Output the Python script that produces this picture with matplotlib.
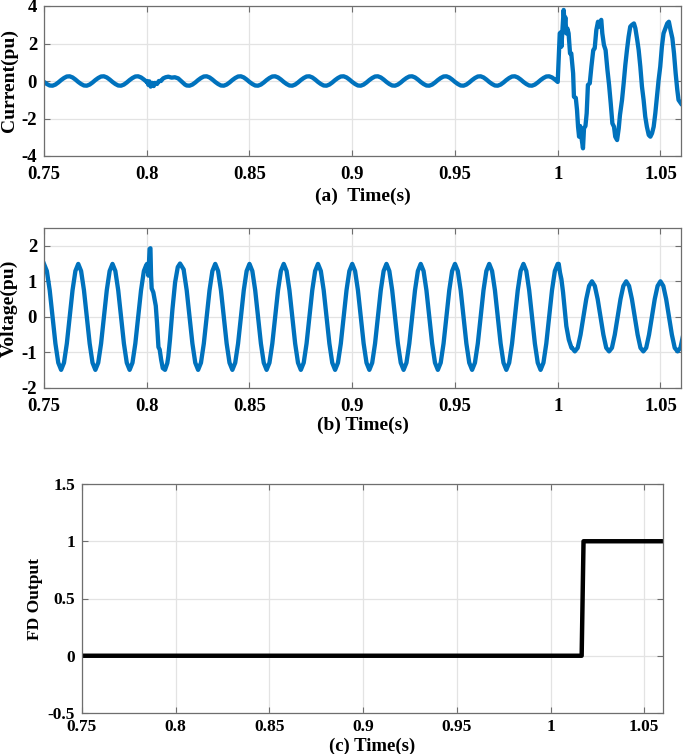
import numpy as np
import matplotlib
matplotlib.use("Agg")
import matplotlib.pyplot as plt
from matplotlib.ticker import FuncFormatter, FixedLocator

# ---------------- data ----------------
t_start = 0.75          # first sample of the read-off grid (s)
sample_rate = 720       # read-off grid: samples per second

# (a) current, pre-fault samples on the grid (0.75 s .. 1.0 s)
current_pu = [
    -0.05, -0.16, -0.24, -0.25, -0.19, -0.08, 0.05, 0.16, 0.24, 0.25, 0.19, 0.08,
    -0.05, -0.16, -0.24, -0.25, -0.19, -0.08, 0.05, 0.16, 0.24, 0.25, 0.19, 0.08,
    -0.05, -0.16, -0.24, -0.25, -0.19, -0.08, 0.05, 0.16, 0.24, 0.25, 0.19, 0.08,
    -0.05, -0.20, -0.15, -0.20, -0.10, 0.00, 0.12, 0.20, 0.23, 0.19, 0.20, 0.12,
    -0.05, -0.16, -0.24, -0.25, -0.19, -0.08, 0.05, 0.16, 0.24, 0.25, 0.19, 0.08,
    -0.05, -0.16, -0.24, -0.25, -0.19, -0.08, 0.05, 0.16, 0.24, 0.25, 0.19, 0.08,
    -0.05, -0.16, -0.24, -0.25, -0.19, -0.08, 0.05, 0.16, 0.24, 0.25, 0.19, 0.08,
    -0.05, -0.16, -0.24, -0.25, -0.19, -0.08, 0.05, 0.16, 0.24, 0.25, 0.19, 0.08,
    -0.05, -0.16, -0.24, -0.25, -0.19, -0.08, 0.05, 0.16, 0.24, 0.25, 0.19, 0.08,
    -0.05, -0.16, -0.24, -0.25, -0.19, -0.08, 0.05, 0.16, 0.24, 0.25, 0.19, 0.08,
    -0.05, -0.16, -0.24, -0.25, -0.19, -0.08, 0.05, 0.16, 0.24, 0.25, 0.19, 0.08,
    -0.05, -0.16, -0.24, -0.25, -0.19, -0.08, 0.05, 0.16, 0.24, 0.25, 0.19, 0.08,
    -0.05, -0.16, -0.24, -0.25, -0.19, -0.08, 0.05, 0.16, 0.24, 0.25, 0.19, 0.08,
    -0.05, -0.16, -0.24, -0.25, -0.19, -0.08, 0.05, 0.16, 0.24, 0.25, 0.19, 0.08,
    -0.05, -0.16, -0.24, -0.25, -0.19, -0.08, 0.05, 0.16, 0.24, 0.25, 0.19, 0.08,
    -0.05,
]
# (a) current, switching transient near 0.8 s
current_evt_t = [0.8001, 0.8008, 0.8013, 0.8019, 0.8027, 0.8034, 0.8040, 0.8050, 0.8059,
                 0.8069, 0.8080, 0.8092, 0.8105, 0.8121, 0.8137, 0.8153, 0.8170, 0.8186]
current_evt_pu = [0.00, -0.21, -0.02, -0.30, -0.10, -0.27, -0.10, -0.16, 0.00,
                  0.00, 0.14, 0.20, 0.23, 0.18, 0.20, 0.14, -0.03, -0.19]
# (a) current, fault after 1.0 s
current_fault_t = [
    1.0010, 1.0015, 1.0018, 1.0023, 1.0029, 1.0034, 1.0037, 1.0042, 1.0047, 1.0053,
    1.0060, 1.0066, 1.0075, 1.0079, 1.0088, 1.0094, 1.0099, 1.0104, 1.0109, 1.0115,
    1.0123, 1.0128, 1.0135, 1.0141, 1.0147, 1.0156, 1.0164, 1.0173, 1.0180, 1.0188,
    1.0196, 1.0201, 1.0207, 1.0212, 1.0217, 1.0225, 1.0233, 1.0242, 1.0250, 1.0258,
    1.0266, 1.0274, 1.0280, 1.0289, 1.0297, 1.0303, 1.0313, 1.0321, 1.0329, 1.0337,
    1.0345, 1.0353, 1.0361, 1.0371, 1.0378, 1.0387, 1.0394, 1.0402, 1.0410, 1.0418,
    1.0426, 1.0434, 1.0443, 1.0451, 1.0459, 1.0467, 1.0475, 1.0483, 1.0491, 1.0499,
    1.0507, 1.0515, 1.0524, 1.0533, 1.0541, 1.0549, 1.0558, 1.0566, 1.0574, 1.0582,
    1.0588, 1.0600,
]
current_fault_pu = [
    2.54, 2.60, 1.83, 2.70, 3.79, 2.99, 3.40, 2.54, 2.80, 2.54,
    1.47, 1.47, 0.41, -0.84, -0.90, -1.55, -2.44, -2.97, -2.40, -2.97,
    -3.59, -2.52, -2.40, -1.72, -0.21, -0.12, 0.77, 1.65, 1.74, 2.72,
    3.16, 2.90, 3.16, 3.26, 2.54, 1.92, 1.65, 0.59, -0.21, -1.19,
    -2.26, -2.44, -2.97, -3.15, -2.52, -1.81, -1.01, -0.12, 0.85, 1.65,
    2.36, 2.90, 2.99, 3.07, 2.81, 2.19, 1.65, 0.77, -0.30, -1.01,
    -1.90, -2.44, -2.88, -2.97, -2.79, -2.44, -1.72, -0.84, 0.05, 0.77,
    1.83, 2.54, 2.81, 3.07, 3.16, 2.72, 2.28, 1.47, 0.41, -0.48,
    -1.01, -1.20,
]

# (b) voltage on the grid (0.75 s .. 1.061 s)
voltage_pu = [
    1.49, 1.29, 0.75, 0.00, -0.75, -1.29, -1.49, -1.29, -0.75, 0.00, 0.75, 1.29,
    1.49, 1.29, 0.75, 0.00, -0.75, -1.29, -1.49, -1.29, -0.75, 0.00, 0.75, 1.29,
    1.49, 1.29, 0.75, 0.00, -0.75, -1.29, -1.49, -1.29, -0.75, 0.00, 0.75, 1.29,
    1.49, 1.60, 0.75, 0.35, -0.80, -1.20, -1.45, -1.35, -0.90, 0.21, 0.95, 1.40,
    1.49, 1.29, 0.75, 0.00, -0.75, -1.29, -1.49, -1.29, -0.75, 0.00, 0.75, 1.29,
    1.49, 1.29, 0.75, 0.00, -0.75, -1.29, -1.49, -1.29, -0.75, 0.00, 0.75, 1.29,
    1.49, 1.29, 0.75, 0.00, -0.75, -1.29, -1.49, -1.29, -0.75, 0.00, 0.75, 1.29,
    1.49, 1.29, 0.75, 0.00, -0.75, -1.29, -1.49, -1.29, -0.75, 0.00, 0.75, 1.29,
    1.49, 1.29, 0.75, 0.00, -0.75, -1.29, -1.49, -1.29, -0.75, 0.00, 0.75, 1.29,
    1.49, 1.29, 0.75, 0.00, -0.75, -1.29, -1.49, -1.29, -0.75, 0.00, 0.75, 1.29,
    1.49, 1.29, 0.75, 0.00, -0.75, -1.29, -1.49, -1.29, -0.75, 0.00, 0.75, 1.29,
    1.49, 1.29, 0.75, 0.00, -0.75, -1.29, -1.49, -1.29, -0.75, 0.00, 0.75, 1.29,
    1.49, 1.29, 0.75, 0.00, -0.75, -1.29, -1.49, -1.29, -0.75, 0.00, 0.75, 1.29,
    1.49, 1.29, 0.75, 0.00, -0.75, -1.29, -1.49, -1.29, -0.75, 0.00, 0.75, 1.29,
    1.49, 1.29, 0.75, 0.00, -0.75, -1.29, -1.49, -1.29, -0.75, 0.00, 0.75, 1.29,
    1.49, 1.22, 0.65, -0.26, -0.68, -0.87, -0.97, -0.87, -0.50, 0.00, 0.50, 0.87,
    1.00, 0.87, 0.50, 0.00, -0.50, -0.87, -0.97, -0.87, -0.50, 0.00, 0.50, 0.87,
    1.00, 0.87, 0.50, 0.00, -0.50, -0.87, -0.97, -0.87, -0.50, 0.00, 0.50, 0.87,
    1.00, 0.87, 0.50, 0.00, -0.50, -0.87, -0.97, -0.87, -0.50,
]
# (b) voltage, switching transient near 0.8 s
voltage_evt1_t = [0.7995, 0.8001, 0.8008, 0.8014, 0.8018, 0.8021, 0.8024, 0.8032, 0.8044,
                  0.8050, 0.8057, 0.8063, 0.8070, 0.8078, 0.8089, 0.8100, 0.8105, 0.8113,
                  0.8125, 0.8138, 0.8151, 0.8162, 0.8180]
voltage_evt1_pu = [1.42, 1.49, 1.16, 1.91, 1.93, 1.16, 0.80, 0.69, 0.31,
                   -0.17, -0.85, -0.92, -1.20, -1.44, -1.49, -1.30, -1.11, -0.64,
                   0.21, 0.97, 1.40, 1.50, 1.33]
# (b) voltage, fault inception at 1.0 s
voltage_evt2_t = [1.0005, 1.0011, 1.0018, 1.0026, 1.0034, 1.0042, 1.0054, 1.0067]
voltage_evt2_pu = [1.49, 1.25, 1.06, 0.69, 0.21, -0.26, -0.64, -0.87]

# (c) fault detector output
fd_t = [0.75, 1.0166, 1.0176, 1.06]
fd_out = [0, 0, 1, 1]

x_ticks = [0.75, 0.8, 0.85, 0.9, 0.95, 1.0, 1.05]
current_yticks = [-4, -2, 0, 2, 4]
voltage_yticks = [-2, -1, 0, 1, 2]
fd_yticks = [-0.5, 0, 0.5, 1, 1.5]


def merge(grid_vals, events):
    t = t_start + np.arange(len(grid_vals)) / sample_rate
    v = np.asarray(grid_vals, dtype=float)
    keep = np.ones(len(t), dtype=bool)
    et_all, ev_all = [], []
    for et, ev in events:
        keep &= ~((t >= min(et)) & (t <= max(et)))
        et_all += list(et)
        ev_all += list(ev)
    T = np.concatenate([t[keep], et_all])
    V = np.concatenate([v[keep], ev_all])
    order = np.argsort(T, kind="stable")
    return T[order], V[order]


cur_t, cur_v = merge(current_pu, [(current_evt_t, current_evt_pu),
                                  (current_fault_t, current_fault_pu)])
vol_t, vol_v = merge(voltage_pu, [(voltage_evt1_t, voltage_evt1_pu),
                                  (voltage_evt2_t, voltage_evt2_pu)])

# ---------------- styling ----------------
plt.rcParams["font.family"] = ["Liberation Serif", "DejaVu Serif"]
plt.rcParams["font.weight"] = "bold"

BLUE = "#0072BD"
FRAME = "#6e6e6e"
GRID = "#e3e3e3"

fmt = FuncFormatter(lambda v, p: "%g" % v)

W, H = 685, 754
fig = plt.figure(figsize=(W / 100, H / 100), dpi=100)


def make_axes(l, r, top, bot):
    return fig.add_axes([l / W, 1 - bot / H, (r - l) / W, (bot - top) / H])


def style(ax, yticks, ylim, tick_size, xpad):
    ax.set_xlim(0.75, 1.06)
    ax.set_ylim(*ylim)
    ax.xaxis.set_major_locator(FixedLocator(x_ticks))
    ax.yaxis.set_major_locator(FixedLocator(yticks))
    ax.xaxis.set_major_formatter(fmt)
    ax.yaxis.set_major_formatter(fmt)
    ax.grid(True, color=GRID, linewidth=0.9)
    ax.set_axisbelow(True)
    for s in ax.spines.values():
        s.set_color(FRAME)
        s.set_linewidth(0.9)
    ax.tick_params(direction="in", top=True, right=True, length=4, width=0.8,
                   color=FRAME, labelsize=tick_size)
    ax.tick_params(axis="x", pad=xpad)
    ax.tick_params(axis="y", pad=5)
    for lab in ax.get_xticklabels() + ax.get_yticklabels():
        lab.set_fontweight("bold")


ax1 = make_axes(44, 681, 6, 156)
ax1.plot(cur_t, cur_v, color=BLUE, linewidth=3.1, solid_joinstyle="round")
style(ax1, current_yticks, (-4, 4), 13.5, 7.5)
ax1.set_xlabel("(a)  Time(s)", fontsize=14, fontweight="bold", va="center")
ax1.xaxis.set_label_coords(0.5, -0.267)
ax1.set_ylabel("Current(pu)", fontsize=14, fontweight="bold", va="center")
ax1.yaxis.set_label_coords(-0.055, 0.5)

ax2 = make_axes(44, 681, 228, 388)
ax2.plot(vol_t, vol_v, color=BLUE, linewidth=3.1, solid_joinstyle="round")
style(ax2, voltage_yticks, (-2, 2.5), 13.5, 7.5)
ax2.set_xlabel("(b) Time(s)", fontsize=14, fontweight="bold", va="center")
ax2.xaxis.set_label_coords(0.5, -0.231)
ax2.set_ylabel("Voltage(pu)", fontsize=14, fontweight="bold", va="center")
ax2.yaxis.set_label_coords(-0.055, 0.5)

ax3 = make_axes(82, 663, 484, 713)
ax3.plot(fd_t, fd_out, color="black", linewidth=3.2)
style(ax3, fd_yticks, (-0.5, 1.5), 12.5, 4.5)
ax3.set_xlabel("(c) Time(s)", fontsize=13.5, fontweight="bold", va="center")
ax3.xaxis.set_label_coords(0.5, -0.146)
ax3.set_ylabel("FD Output", fontsize=12.5, fontweight="bold", va="center")
ax3.yaxis.set_label_coords(-0.081, 0.5)

fig.savefig("out.png", dpi=100)
